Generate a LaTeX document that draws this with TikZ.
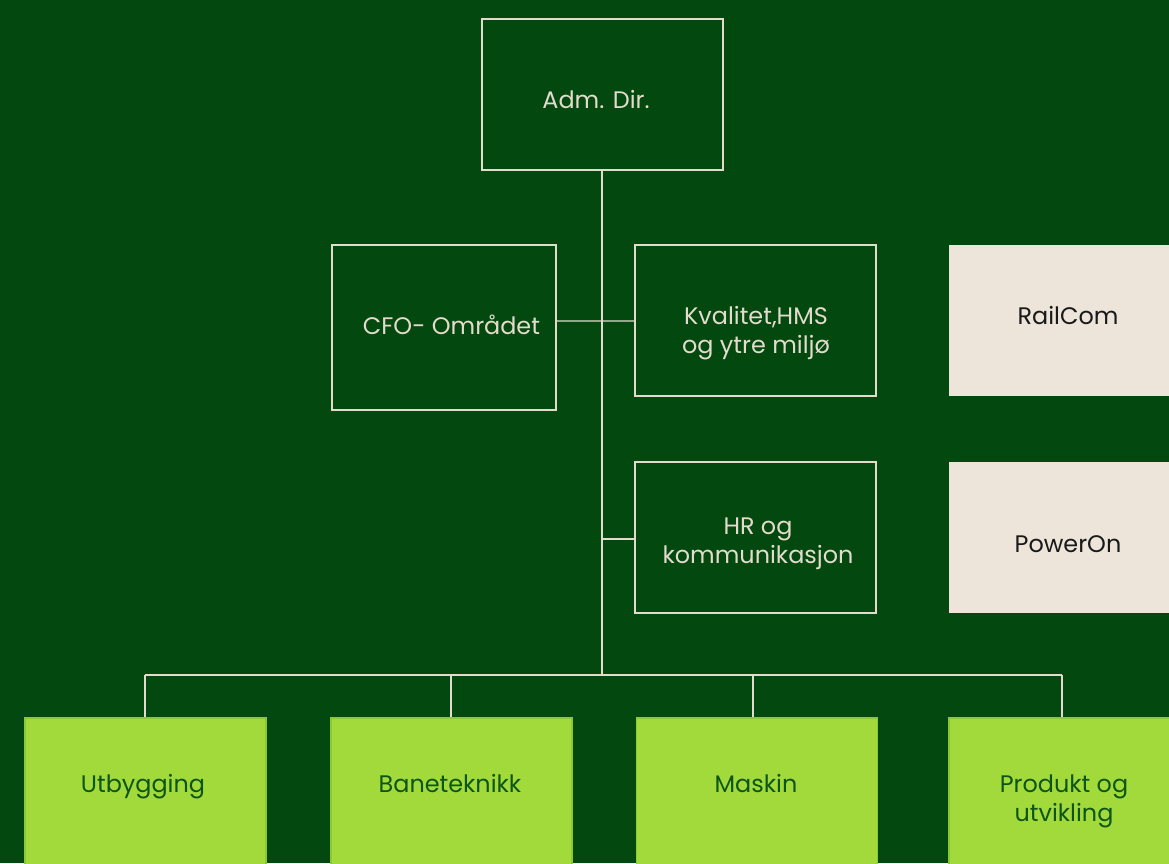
\documentclass[tikz,border=0pt]{standalone}
\usepackage{fontspec}
\setmainfont{Poppins}
\usetikzlibrary{calc}

\definecolor{bggreen}{HTML}{02480F}
\definecolor{lime}{HTML}{A2DA3B}
\definecolor{limeedge}{HTML}{8CC736}
\definecolor{sand}{HTML}{EDE5DA}
\definecolor{linecol}{HTML}{E3DBCB}
\definecolor{darktxt}{HTML}{0C5516}

\tikzset{
    unit/.style={draw=linecol, line width=0.9pt, minimum width=6.025cm, minimum height=3.775cm, inner sep=0pt},
    partner/.style={fill=sand, minimum width=6.025cm, minimum height=3.775cm, inner sep=0pt},
    division/.style={fill=lime, draw=limeedge, line width=0.8pt, minimum width=6.025cm, minimum height=3.775cm, inner sep=0pt},
    lbl/.style={anchor=base, align=center, font=\fontsize{17}{20.6}\selectfont, inner sep=0pt},
    link/.style={draw=linecol, line width=0.9pt}
}

\begin{document}
\begin{tikzpicture}[x=0.025cm, y=-0.025cm]

            \useasboundingbox (0,0) rectangle (1169,863);
            \fill[bggreen] (0,0) rectangle (1169,863);
            \clip (0,0) rectangle (1169,863);

            % boxes
            \node[unit] (adm) at (602.5,94.5) {};
            \node[unit, minimum width=5.6cm, minimum height=4.125cm] (cfo) at (444,327.5) {};
            \node[unit] (kval) at (755.5,320.5) {};
            \node[unit] (hr) at (755.5,537.5) {};
            \node[partner] (rail) at (1069.5,320.5) {};
            \node[partner] (power) at (1069.5,537.5) {};

            \node[division] (utb) at (145.5,793.5) {};
            \node[division] (bane) at (451.5,793.5) {};
            \node[division] (mask) at (757,793.5) {};
            \node[division] (prod) at (1069.5,793.5) {};

            % texts
            \node[lbl, text=linecol] (admtxt) at (596,108) {Adm. Dir.};
            \node[lbl, text=linecol] (cfotxt) at (451.5,334) {CFO- Området};
            \node[lbl, text=linecol] (kvaltxt) at (756,353) {Kvalitet,HMS\\og ytre miljø};
            \node[lbl, text=linecol] (hrtxt) at (758,563) {HR og\\kommunikasjon};
            \node[lbl, text=black!90] (railtxt) at (1068,324) {RailCom};
            \node[lbl, text=black!90] (powertxt) at (1068,552) {PowerOn};

            \node[lbl, text=darktxt] (utbtxt) at (143,792) {Utbygging};
            \node[lbl, text=darktxt] (banetxt) at (450,792) {Baneteknikk};
            \node[lbl, text=darktxt] (masktxt) at (756,792) {Maskin};
            \node[lbl, text=darktxt] (prodtxt) at (1064,821) {Produkt og\\utvikling};

            % lines
            \coordinate (hub) at (602,675);
            \coordinate (d1) at (145,675);
            \coordinate (d2) at (451,675);
            \coordinate (d3) at (753,675);
            \coordinate (d4) at (1062,675);

            \draw[link] (adm.south -| hub) -- (hub);
            \draw[link] (d1) -- (d4);
            \draw[link] (d1) -- (d1 |- utb.north);
            \draw[link] (d2) -- (d2 |- bane.north);
            \draw[link] (d3) -- (d3 |- mask.north);
            \draw[link] (d4) -- (d4 |- prod.north);
            \draw[link] ($(cfo.east)+(0,-6.5)$) -- ($(kval.west)+(0,0.5)$);
            \draw[link] (hr.west |- 0,539) -- (hub |- 0,539);

        \end{tikzpicture}
\end{document}
